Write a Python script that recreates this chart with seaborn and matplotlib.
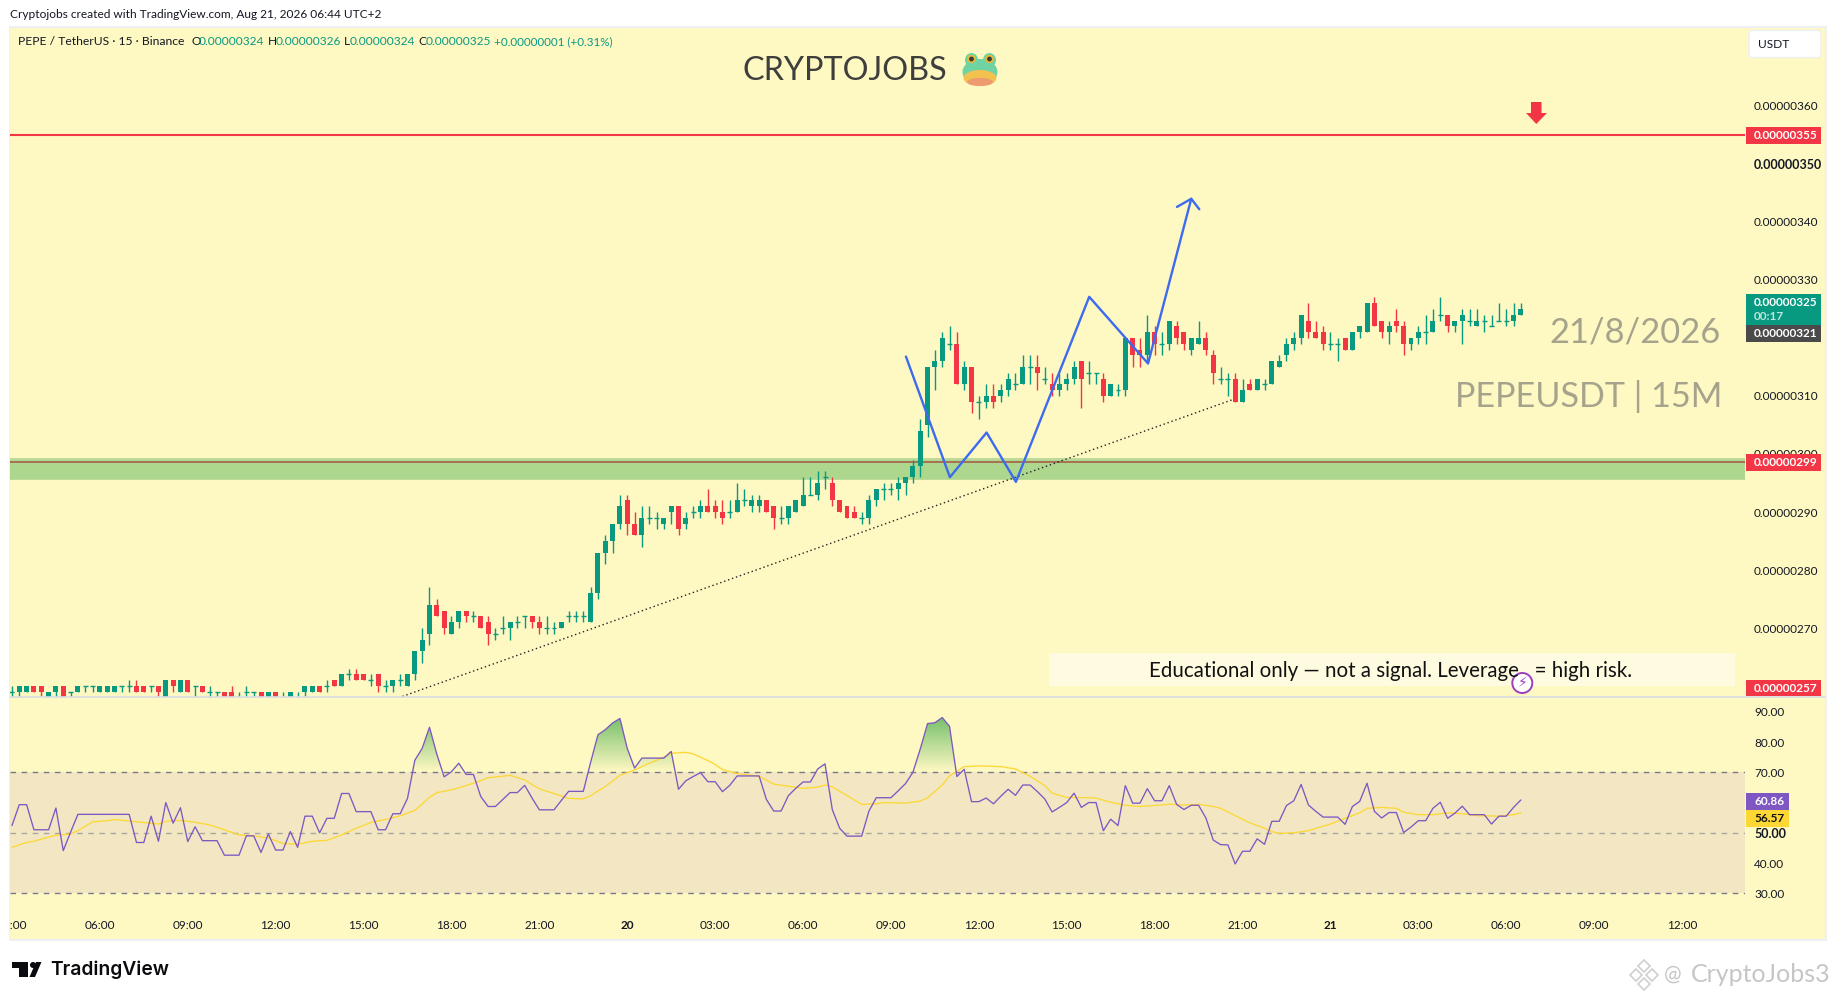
"""
plot.py - PEPE/USDT 15m TradingView style chart with RSI pane.
Prices are kept in units of 1e-8 USDT.
"""
import numpy as np
import pandas as pd
import matplotlib
matplotlib.use("Agg")
import matplotlib.pyplot as plt
import seaborn as sns
from matplotlib.patches import Rectangle, Ellipse, Polygon, Circle, FancyBboxPatch, PathPatch
from matplotlib.path import Path

# ---------------------------------------------------------------------------
# Data
# ---------------------------------------------------------------------------
opens = [259,259,259,260,260,258,259,260,259,259,
         260,260,259,259,259,260,260,260,260,260,
         260,258,261,259,261,260,260,259,259,259,
         259,258,259,259,259,258,259,258,258,258,
         259,259,260,260,261,260,262,262,262,261,
         262,260,260,261,260,262,266,269,274,273,
         269,271,273,272,272,271,269,270,270,271,
         272,272,271,270,270,270,272,272,272,271,
         276,283,285,288,292,288,286,289,289,288,
         290,291,288,290,290,291,291,290,290,290,
         292,291,291,292,291,289,289,290,291,293,
         293,296,295,292,291,290,289,289,292,294,
         294,294,295,296,298,305,315,316,319,319,
         312,315,309,309,310,310,311,312,312,315,
         315,313,312,311,312,313,316,314,314,313,
         310,311,311,320,318,317,321,319,319,322,
         321,318,319,320,317,313,313,313,309,312,
         311,312,312,315,317,319,320,323,321,321,
         319,319,320,318,321,321,326,323,321,323,
         322,319,320,321,321,324,324,322,323,323,
         322,323,322,323,323,323,324]
highs = [260,260,260,260,260,259,260,260,259,260,
         260,260,260,260,260,260,261,261,260,260,
         260,261,261,261,261,260,260,260,259,259,
         260,259,260,259,259,259,259,259,259,259,
         260,260,260,261,261,262,263,263,262,262,
         262,261,261,262,262,266,270,277,275,273,
         272,273,273,273,272,272,270,272,271,272,
         272,272,272,272,271,271,273,273,273,277,
         283,286,288,293,293,290,291,291,290,289,
         291,291,290,291,292,294,292,292,292,295,
         294,293,293,292,291,291,291,292,296,296,
         297,297,296,292,291,291,290,293,294,295,
         295,296,296,299,306,315,318,321,322,321,
         316,315,310,312,312,312,314,314,317,317,
         317,315,314,314,314,316,316,316,314,314,
         312,312,320,320,320,324,322,321,323,323,
         321,320,323,321,318,315,314,314,313,313,
         313,313,316,317,320,321,324,326,323,322,
         321,320,320,321,322,326,327,323,323,325,
         323,320,322,324,325,327,324,323,325,325,
         325,324,324,326,325,326,326]
lows = [258,258,259,259,258,258,258,258,258,259,
        259,259,259,259,259,259,259,259,259,259,
        258,258,259,259,259,258,259,258,258,258,
        258,258,258,258,258,258,258,258,258,258,
        258,259,259,259,260,260,261,261,261,260,
        259,259,259,260,260,261,264,267,272,269,
        269,270,271,271,270,267,268,269,268,270,
        270,270,269,269,269,270,271,271,271,271,
        275,281,283,287,286,286,284,288,287,287,
        288,286,287,289,289,290,289,288,289,290,
        291,290,290,290,287,288,288,290,291,293,
        292,294,291,290,289,289,288,288,291,292,
        293,292,293,295,296,303,311,315,318,312,
        311,307,306,308,308,309,310,311,312,312,
        311,312,310,310,311,312,308,312,312,309,
        310,310,310,315,315,316,317,317,318,319,
        318,317,319,317,312,312,310,309,309,311,
        311,311,312,315,316,318,319,320,320,318,
        318,316,318,318,320,321,322,320,319,321,
        317,318,319,319,321,323,321,321,319,322,
        322,321,322,323,322,322,324]
closes = [259,260,260,259,259,259,260,258,259,260,
          260,260,260,260,260,260,260,259,259,260,
          259,261,260,261,259,260,259,259,259,258,
          258,258,259,259,258,259,258,258,259,258,
          260,260,259,260,260,262,262,261,261,261,
          260,260,261,261,262,266,268,274,272,270,
          271,273,272,272,270,269,269,270,271,271,
          272,271,270,270,270,271,272,272,272,276,
          283,285,288,291,288,286,289,289,289,289,
          291,287,289,290,291,290,290,289,290,292,
          292,292,292,290,289,289,291,292,293,293,
          295,296,292,290,289,289,289,292,294,294,
          294,295,296,298,304,315,316,320,319,312,
          315,309,309,310,309,311,313,312,315,315,
          314,313,311,312,313,315,313,314,314,310,
          312,311,320,317,317,321,319,319,323,320,
          319,320,320,318,314,313,313,309,311,311,
          313,312,316,316,319,320,324,321,320,319,
          319,319,318,321,322,326,322,321,322,322,
          319,320,321,321,323,324,322,323,324,323,
          323,323,322,323,323,324,325]

rsi_vals = [52.4,59.3,59.3,51,51,51,58.2,44.1,50.2,56.1,
            56.1,56.1,56.1,56.1,56.1,56.1,56.1,46.8,46.8,55.5,
            47.2,60,53.2,58.3,47.1,52,47.4,47.4,47.4,42.6,
            42.6,42.6,49,49,43.5,49.6,44.3,44.3,50.4,45.2,
            55.5,55.5,50,54.8,54.8,63,63,57,57,57,
            51,51,56.3,56.3,61.4,74,77.9,84.9,76,68.5,
            70.2,73,69.3,69.3,62,58.7,58.7,61,63.3,63.3,
            65.7,61.5,57.6,57.6,57.6,60.7,63.7,63.7,63.7,73.3,
            82.4,84.1,86.3,87.8,77.9,71.4,74.7,74.7,74.7,74.7,
            76.9,64.4,67.2,68.6,69.9,66.9,66.9,63.6,65.7,68.8,
            68.8,68.8,68.8,61,57.2,57.2,62.3,64.7,66.8,66.8,
            71.1,72.8,57.6,51.5,48.9,48.9,48.9,57.2,61.6,61.6,
            61.6,63.9,66.3,70,77.7,86.1,86.4,88.1,85.2,68.6,
            71,60.3,60.3,61.5,59.6,62.1,64.4,62.4,65.8,65.8,
            63.6,61.2,56.9,58.4,60,63.1,58.4,60,60,50.7,
            54.5,52.4,65.6,59.8,59.8,64.6,60.6,60.6,65.6,59.4,
            57.7,59.1,59.1,54.9,47.6,46.1,46,39.7,43.9,43.9,
            48,46.2,53.8,53.8,59,60.6,66,59.2,57.1,55.2,
            55.2,55.2,52.8,58.7,60.4,66.4,57.1,54.9,56.7,56.7,
            50.1,51.9,54,54,58.1,60.1,54.8,56.5,58.8,56,
            56,56,52.9,55.5,55.5,58.4,60.86]

ma_idx = [0,2,3,5,6,8,9,11,13,14,16,18,20,21,23,25,27,29,31,33,35,37,39,41,43,45,47,49,51,53,
          55,57,58,60,62,64,65,67,68,70,72,74,76,78,79,81,83,85,87,89,90,92,93,95,96,97,99,102,
          104,106,108,110,111,112,114,116,118,119,122,124,125,127,128,130,132,135,137,139,141,
          142,144,147,148,150,152,154,157,158,160,162,164,165,167,169,171,172,173,175,177,179,
          180,182,184,185,187,189,190,192,194,196,198,200,203,205,206]
ma_vals = [45.2,46.8,47.2,48.6,49.2,49.6,50.7,53.6,54,54.4,53.9,53.4,52.9,53.8,54.1,53.5,52.6,51,
           49.3,49,48.3,46.5,46.2,47.2,47.5,49.3,51.5,53.4,54.4,55.6,57.4,61.7,63.3,64.2,65.6,
           67.2,68.2,68.7,69,67.5,64.5,63,61.4,61.2,62.3,65.3,69,70.8,73,75,76.3,76.6,76.1,73.9,
           72.6,70.9,69.6,68.7,66.1,65.4,64.7,65.1,65.8,65.2,62.3,59.4,59.6,60,59.8,60.5,61.6,
           65.8,68.8,71.9,72.1,71.9,71.1,68.7,65.6,63.1,61.7,61.6,61.5,60.1,59.1,58.7,59.2,59.5,
           59.2,59.4,58.7,58.1,55.7,53.3,51.5,50.4,49.8,50,50.7,52.2,52.9,54.8,56.6,58.1,58.4,
           58.1,56.8,56,56,56.6,56.3,55.7,55.5,56,56.57]

# drawn pattern and levels
pattern_idx = [122.05,128.05,133.06,137.06,147.07,155.1,161.0]
pattern_px = [316.8,296,303.7,295.2,327.1,315.6,344]
head_idx = [159.05,161.0,162.1]
head_px = [342.6,344,342.2]
trend_idx = [53.3,166.7]
trend_px = [258.2,309.4]
resistance = 355
support = 298.6
zone_top, zone_bottom = 299.3, 295.5

price_ticks = [260,270,280,290,300,310,320,330,340,350,360]
rsi_ticks = [30,40,50,60,70,80,90]
rsi_tick_labels = ["30.00","40.00","50.00","","70.00","80.00","90.00"]
time_pos = [0,12,24,36,48,60,72,84,96,108,120,132,144,156,168,180,192,204,216,228]
time_labels = ["03:00","06:00","09:00","12:00","15:00","18:00","21:00","20","03:00","06:00",
               "09:00","12:00","15:00","18:00","21:00","21","03:00","06:00","09:00","12:00"]

# ---------------------------------------------------------------------------
# Style
# ---------------------------------------------------------------------------
BG = "#FEF8C3"
GREEN = "#089981"
RED = "#F23645"
PURPLE = "#7E57C2"
YELLOW = "#FDD835"
INK = "#131722"
FONT = "Lato"

sns.set_theme(style="white", rc={"axes.facecolor": BG, "figure.facecolor": "white"})
plt.rcParams["font.family"] = [FONT, "DejaVu Sans"]

W, H = 1835, 1000
fig = plt.figure(figsize=(W / 100, H / 100), dpi=100)


def pane(left, top, right, bottom, **kw):
    return fig.add_axes([left / W, 1 - bottom / H, (right - left) / W, (bottom - top) / H], **kw)


back = pane(0, 0, W, H, zorder=-1)
back.set_xlim(0, W)
back.set_ylim(H, 0)
back.axis("off")
back.add_patch(Rectangle((9, 26.5), 1817, 913.5, facecolor=BG, edgecolor="#EEF0F3", lw=1.5))

ax = pane(10, 27, 1745, 696.5)
rsi_ax = pane(10, 697, 1745, 907)
for a in (ax, rsi_ax):
    a.set_facecolor(BG)
    a.patch.set_alpha(0)
    for s in a.spines.values():
        s.set_visible(False)
    a.set_xlim(-0.27, 236.6)
    a.yaxis.tick_right()
    a.tick_params(axis="both", length=0, labelsize=8.5, labelcolor=INK)

ax.set_ylim(258.19, 373.62)
rsi_ax.set_ylim(25.47, 94.9)

# ---------------------------------------------------------------------------
# Price pane
# ---------------------------------------------------------------------------
candles = pd.DataFrame({"o": opens, "h": highs, "l": lows, "c": closes})
candles["i"] = candles.index
candles["color"] = np.where(candles.c >= candles.o, GREEN, RED)
candles["top"] = candles[["o", "c"]].max(axis=1)
candles["bot"] = candles[["o", "c"]].min(axis=1)

ax.axhspan(zone_bottom, zone_top, facecolor="#AED78E", edgecolor="none", zorder=1)
ax.axhspan(zone_top - 0.25, zone_top, facecolor="#BCDB98", edgecolor="none", zorder=1)
ax.axhspan(zone_bottom, zone_bottom + 0.25, facecolor="#BCDB98", edgecolor="none", zorder=1)
ax.axhline(support, color="#A8694F", lw=1.3, zorder=1.5)
ax.axhline(resistance, color=RED, lw=1.5, zorder=1.5)

ax.vlines(candles.i, candles.l, candles.h, colors=candles.color, lw=1.0, zorder=2)
ax.bar(candles.i, candles.top - candles.bot, bottom=candles.bot, width=0.68,
       color=candles.color, linewidth=0, zorder=2.1)
doji = candles[candles.o == candles.c]
ax.hlines(doji.o, doji.i - 0.34, doji.i + 0.34, colors=GREEN, lw=1.0, zorder=2.1)

sns.lineplot(x=trend_idx, y=trend_px, ax=ax, color="#222222", lw=1.0, linestyle=(0, (1, 2)),
             errorbar=None, zorder=3)
sns.lineplot(x=pattern_idx, y=pattern_px, ax=ax, color="#3D6BF0", lw=1.7, sort=False,
             estimator=None, errorbar=None, zorder=4)
sns.lineplot(x=head_idx, y=head_px, ax=ax, color="#3D6BF0", lw=1.7, sort=False,
             estimator=None, errorbar=None, zorder=4)

ax.set_xticks([])
ax.set_yticks(price_ticks)
ax.set_yticklabels([f"{p / 1e8:.8f}" for p in price_ticks])
ax.tick_params(axis="y", pad=6.5)
for lab, p in zip(ax.get_yticklabels(), price_ticks):
    if p == 350:
        lab.set_fontsize(9.0)
        lab.set_fontweight("bold")

# ---------------------------------------------------------------------------
# RSI pane
# ---------------------------------------------------------------------------
rsi_x = np.arange(len(rsi_vals))
rsi_arr = np.array(rsi_vals)
rsi_ax.axhspan(30, 70, facecolor="#F2E7C2", edgecolor="none", zorder=1)
rsi_ax.axhline(70, color="#787B86", lw=1, linestyle=(0, (4, 4)), zorder=1.2)
rsi_ax.axhline(50, color="#A8A8A0", lw=1, linestyle=(0, (4, 4)), zorder=1.2)
rsi_ax.axhline(30, color="#787B8E", lw=1, linestyle=(0, (4, 4)), zorder=1.2)

# overbought gradient clipped to the area between 70 and the RSI
area = rsi_ax.fill_between(rsi_x, 70, rsi_arr, where=rsi_arr > 70, interpolate=True,
                           facecolor="none", edgecolor="none")
clip = Path.make_compound_path(*area.get_paths())
grad = np.zeros((64, 1, 4))
grad[..., :3] = matplotlib.colors.to_rgb("#4CAF50")
grad[..., 3] = np.linspace(0.85, 0.0, 64)[:, None]
im = rsi_ax.imshow(grad, extent=(0, 206, 70, 90), aspect="auto", origin="upper", zorder=1.4)
im.set_clip_path(PathPatch(clip, transform=rsi_ax.transData))
rsi_ax.set_xlim(-0.27, 236.6)
rsi_ax.set_ylim(25.47, 94.9)

sns.lineplot(x=ma_idx, y=ma_vals, ax=rsi_ax, color=YELLOW, lw=0.95, errorbar=None, zorder=2)
sns.lineplot(x=rsi_x, y=rsi_arr, ax=rsi_ax, color=PURPLE, lw=0.95, errorbar=None, zorder=2.2)

rsi_ax.set_yticks(rsi_ticks)
rsi_ax.set_yticklabels(rsi_tick_labels)
rsi_ax.tick_params(axis="y", pad=6.5)
rsi_ax.set_xticks(time_pos)
rsi_ax.set_xticklabels(time_labels)
rsi_ax.tick_params(axis="x", pad=9.2)
rsi_ax.set_xlabel("")
rsi_ax.set_ylabel("")
ax.set_xlabel("")
ax.set_ylabel("")
for lab in rsi_ax.get_xticklabels():
    if lab.get_text() in ("20", "21"):
        lab.set_fontweight("bold")
for lab in rsi_ax.get_yticklabels():
    if lab.get_text() == "50.00":
        lab.set_fontsize(9.0)
        lab.set_fontweight("bold")

# ---------------------------------------------------------------------------
# Overlay: header, badges, watermarks (figure pixels)
# ---------------------------------------------------------------------------
ov = pane(0, 0, W, H, zorder=10)
ov.set_xlim(0, W)
ov.set_ylim(H, 0)
ov.axis("off")
ov.patch.set_alpha(0)


def put(x, y, s, size=8.6, color=INK, ha="left", **kw):
    ov.text(x, y, s, fontsize=size, color=color, ha=ha, va="center", **kw)


def badge(top, bottom, color, text, text_color="white", left=1746, right=1821):
    ov.add_patch(Rectangle((left, top), right - left, bottom - top, facecolor=color, edgecolor="none"))
    put(1754, (top + bottom) / 2, text, size=8.5, color=text_color, fontweight="bold")


ov.add_patch(Rectangle((0, 0), 9, 1000, facecolor="white", edgecolor="none", zorder=5))
ov.plot([10, 1825], [696.5, 696.5], color="#D8DCE6", lw=1.2)

put(10, 14, "Cryptojobs created with TradingView.com, Aug 21, 2026 06:44 UTC+2", size=8.6)
put(18, 41.5, "PEPE / TetherUS · 15 · Binance", size=8.7)
for x_lab, x_val, lab, val in [(191, 199, "O", "0.00000324"), (268, 276, "H", "0.00000326"),
                               (344, 350, "L", "0.00000324"), (418, 426, "C", "0.00000325")]:
    put(x_lab, 41.5, lab)
    put(x_val, 41.5, val, color=GREEN)
put(493.5, 41.5, "+0.00000001 (+0.31%)", size=8.4, color=GREEN)

put(742, 71.5, "CRYPTOJOBS", size=23.3, color="#3E3E3C")
# frog emoji
ov.add_patch(Ellipse((971.5, 60), 13, 14, facecolor="#6FD3A3", edgecolor="none"))
ov.add_patch(Ellipse((989.5, 60), 13, 14, facecolor="#6FD3A3", edgecolor="none"))
ov.add_patch(Ellipse((980, 72), 35, 26, facecolor="#6FD3A3", edgecolor="none"))
ov.add_patch(Ellipse((980, 78), 33, 16, facecolor="#F2C14E", edgecolor="none"))
ov.add_patch(Ellipse((980, 82), 26, 8, facecolor="#EE9A70", edgecolor="none"))
for ex in (971.5, 989.5):
    ov.add_patch(Circle((ex, 59), 4.2, facecolor="#E8B83A", edgecolor="none"))
    ov.add_patch(Circle((ex, 59), 2.4, facecolor="#3A3A30", edgecolor="none"))

put(1721, 332, "21/8/2026", size=24.8, color="#A5A38C", ha="right")
put(1722, 396.5, "PEPEUSDT | 15M", size=24.6, color="#A5A38C", ha="right")

ov.add_patch(Rectangle((1048.5, 653), 686.5, 32.7, facecolor="#FFFBE0", edgecolor="none"))
put(1391, 671, "Educational only — not a signal. Leverage   = high risk.", size=14.8, color="#111111", ha="center")
ov.add_patch(Circle((1522.3, 683), 10, facecolor="white", edgecolor="#9C3FBF", lw=1.4))
ov.text(1522.3, 683, "⚡", fontsize=10, color="#9C3FBF", ha="center", va="center", family="DejaVu Sans")

# sell arrow above the resistance line
ov.add_patch(Polygon([(1531, 102), (1541.5, 102), (1541.5, 113), (1547, 113), (1536.3, 124),
                      (1526, 113), (1531, 113)], facecolor=RED, edgecolor="none"))

ov.add_patch(FancyBboxPatch((1751, 32.5), 68, 23, boxstyle="round,pad=2,rounding_size=3",
                            facecolor="white", edgecolor="#EEF0F3", lw=1))
put(1758, 44.5, "USDT")

badge(127, 143.7, RED, "0.00000355")
badge(454, 470.7, RED, "0.00000299")
badge(680, 696, RED, "0.00000257")
ov.add_patch(Rectangle((1746, 294), 75, 31, facecolor=GREEN, edgecolor="none"))
put(1754, 302.5, "0.00000325", size=8.5, color="white", fontweight="bold")
put(1754, 316.5, "00:17", size=8.5, color="#BFE6DC", fontweight="bold")
badge(325, 341.7, "#4A4A4A", "0.00000321")
badge(793.3, 809.7, PURPLE, "60.86", left=1746, right=1789)
badge(810, 827, YELLOW, "56.57", text_color="#111111", left=1746, right=1789)

# TradingView mark
ov.add_patch(Polygon([(12, 962), (28, 962), (28, 977), (19, 977), (19, 968), (12, 968)],
                     facecolor="#0B0B0F", edgecolor="none"))
ov.add_patch(Circle((33, 965), 3, facecolor="#0B0B0F", edgecolor="none"))
ov.add_patch(Polygon([(36, 962), (41.5, 962), (35, 977), (29.5, 977)], facecolor="#0B0B0F", edgecolor="none"))
put(50, 969.5, "TradingView", size=13.9, color="#0B0B0F", family="Inter", fontweight="semibold")

# watermark
for cx, cy, r in [(1644, 966, 6), (1636, 975, 6), (1652, 975, 6), (1644, 984, 6)]:
    ov.add_patch(Polygon([(cx, cy - r), (cx + r, cy), (cx, cy + r), (cx - r, cy)], facecolor="none",
                         edgecolor="#CFCFCF", lw=1.2))
put(1664, 975, "@", size=15, color="#C6C6C6")
put(1691, 975, "CryptoJobs3", size=18, color="#C6C6C6")

fig.savefig("out.png", dpi=100)
plt.close(fig)
